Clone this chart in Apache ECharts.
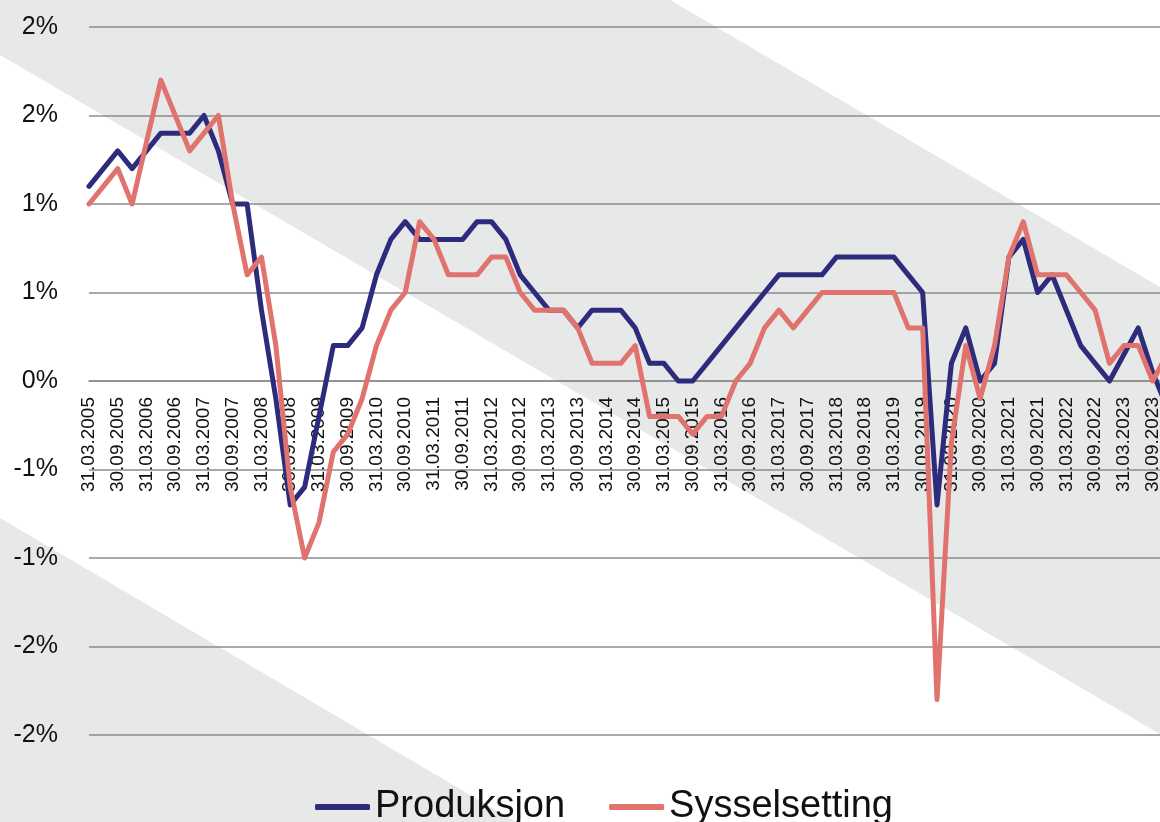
<!DOCTYPE html>
<html lang="no">
<head>
<meta charset="utf-8" />
<title>Produksjon og sysselsetting</title>
<script src="https://cdn.jsdelivr.net/npm/echarts@6/dist/echarts.min.js"></script>
<style>
    html, body { margin: 0; padding: 0; background: #fff; }
    #main { width: 1160px; height: 822px; }
</style>
</head>
<body>
<div id="main"></div>
<script type="text/javascript">
    // kvartalsdatoer (x-akse)
    var quarters = [
        '31.03.2005', '30.06.2005', '30.09.2005', '31.12.2005',
        '31.03.2006', '30.06.2006', '30.09.2006', '31.12.2006',
        '31.03.2007', '30.06.2007', '30.09.2007', '31.12.2007',
        '31.03.2008', '30.06.2008', '30.09.2008', '31.12.2008',
        '31.03.2009', '30.06.2009', '30.09.2009', '31.12.2009',
        '31.03.2010', '30.06.2010', '30.09.2010', '31.12.2010',
        '31.03.2011', '30.06.2011', '30.09.2011', '31.12.2011',
        '31.03.2012', '30.06.2012', '30.09.2012', '31.12.2012',
        '31.03.2013', '30.06.2013', '30.09.2013', '31.12.2013',
        '31.03.2014', '30.06.2014', '30.09.2014', '31.12.2014',
        '31.03.2015', '30.06.2015', '30.09.2015', '31.12.2015',
        '31.03.2016', '30.06.2016', '30.09.2016', '31.12.2016',
        '31.03.2017', '30.06.2017', '30.09.2017', '31.12.2017',
        '31.03.2018', '30.06.2018', '30.09.2018', '31.12.2018',
        '31.03.2019', '30.06.2019', '30.09.2019', '31.12.2019',
        '31.03.2020', '30.06.2020', '30.09.2020', '31.12.2020',
        '31.03.2021', '30.06.2021', '30.09.2021', '31.12.2021',
        '31.03.2022', '30.06.2022', '30.09.2022', '31.12.2022',
        '31.03.2023', '30.06.2023', '30.09.2023', '31.12.2023'
    ];

    // Produksjon, prosent
    var produksjon = [
        1.1, 1.2, 1.3, 1.2,   1.3, 1.4, 1.4, 1.4,
        1.5, 1.3, 1.0, 1.0,   0.4, -0.1, -0.7, -0.6,
        -0.2, 0.2, 0.2, 0.3,  0.6, 0.8, 0.9, 0.8,
        0.8, 0.8, 0.8, 0.9,   0.9, 0.8, 0.6, 0.5,
        0.4, 0.4, 0.3, 0.4,   0.4, 0.4, 0.3, 0.1,
        0.1, 0.0, 0.0, 0.1,   0.2, 0.3, 0.4, 0.5,
        0.6, 0.6, 0.6, 0.6,   0.7, 0.7, 0.7, 0.7,
        0.7, 0.6, 0.5, -0.7,  0.1, 0.3, 0.0, 0.1,
        0.7, 0.8, 0.5, 0.6,   0.4, 0.2, 0.1, 0.0,
        0.15, 0.3, 0.05, -0.15
    ];

    // Sysselsetting, prosent
    var sysselsetting = [
        1.0, 1.1, 1.2, 1.0,   1.35, 1.7, 1.5, 1.3,
        1.4, 1.5, 1.0, 0.6,   0.7, 0.2, -0.6, -1.0,
        -0.8, -0.4, -0.3, -0.1, 0.2, 0.4, 0.5, 0.9,
        0.8, 0.6, 0.6, 0.6,   0.7, 0.7, 0.5, 0.4,
        0.4, 0.4, 0.3, 0.1,   0.1, 0.1, 0.2, -0.2,
        -0.2, -0.2, -0.3, -0.2, -0.2, 0.0, 0.1, 0.3,
        0.4, 0.3, 0.4, 0.5,   0.5, 0.5, 0.5, 0.5,
        0.5, 0.3, 0.3, -1.8,  -0.35, 0.2, -0.1, 0.2,
        0.7, 0.9, 0.6, 0.6,   0.6, 0.5, 0.4, 0.1,
        0.2, 0.2, 0.0, 0.15
    ];

    var seriesNames = ['Produksjon', 'Sysselsetting'];

    var myChart = echarts.init(document.getElementById('main'));
    var font = 'Liberation Sans';
    var gridTop = 27, gridHeight = 708;
    // x-aksen står på 0-linja: midt i intervallet -2..2
    var zeroOffset = -gridHeight / 2;

    var option = {
        backgroundColor: '#ffffff',
        animation: false,
        // skrå grå bakgrunnsbånd
        graphic: [
            {
                type: 'polygon', z: -10, silent: true,
                shape: { points: [[0, 0], [670, 0], [1160, 287], [1160, 734], [0, 55]] },
                style: { fill: '#e7e8e8' }
            },
            {
                type: 'polygon', z: -10, silent: true,
                shape: { points: [[0, 518], [516, 822], [0, 822]] },
                style: { fill: '#e7e8e8' }
            }
        ],
        legend: {
            data: seriesNames,
            left: 310,
            top: 783,
            icon: 'roundRect',
            itemWidth: 55,
            itemHeight: 6,
            itemGap: 44,
            textStyle: { fontFamily: font, fontSize: 38, color: '#111' }
        },
        grid: {
            left: 89, top: gridTop, width: 1078, height: gridHeight,
            containLabel: false, outerBoundsMode: 'none'
        },
        xAxis: {
            type: 'category',
            boundaryGap: false,
            data: quarters,
            position: 'bottom',
            offset: zeroOffset,
            axisLine: { show: true, onZero: false, lineStyle: { color: '#8c8c8c', width: 1.5 } },
            axisTick: { show: false },
            splitLine: { show: false },
            axisLabel: {
                interval: 1,
                rotate: 90,
                margin: 16,
                fontFamily: font,
                fontSize: 19,
                color: '#111'
            }
        },
        yAxis: {
            type: 'value',
            min: -2,
            max: 2,
            interval: 0.5,
            axisLine: { show: false },
            axisTick: { show: false },
            splitLine: { lineStyle: { color: '#8c8c8c', width: 1.5 } },
            axisLabel: {
                margin: 31,
                fontFamily: font,
                fontSize: 25,
                color: '#111',
                formatter: function (v) {
                    var r = Math.round(Math.abs(v));
                    return (v < 0 && r !== 0 ? '-' : '') + r + '%';
                }
            }
        },
        series: [
            {
                name: seriesNames[0],
                type: 'line',
                data: produksjon,
                symbol: 'none',
                color: '#2d2c7c',
                lineStyle: { width: 5, color: '#2d2c7c', join: 'round', cap: 'round' }
            },
            {
                name: seriesNames[1],
                type: 'line',
                data: sysselsetting,
                symbol: 'none',
                color: '#e0736e',
                lineStyle: { width: 5, color: '#e0736e', join: 'round', cap: 'round' }
            }
        ]
    };

    myChart.setOption(option);
</script>
</body>
</html>
